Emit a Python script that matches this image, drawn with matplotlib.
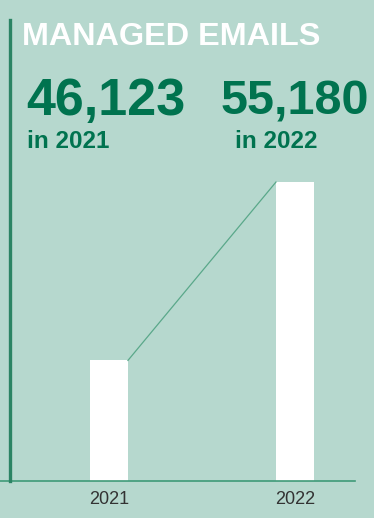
import matplotlib
matplotlib.use("Agg")
import matplotlib.pyplot as plt
from matplotlib.lines import Line2D

years = ["2021", "2022"]
emails = [46123, 55180]
big_labels = ["46,123", "55,180"]
sub_labels = ["in 2021", "in 2022"]

bg = "#b6d8ce"
dark = "#00734f"
line_c = "#3f9a78"

plt.rcParams['font.family'] = ['Liberation Sans', 'DejaVu Sans']

fig = plt.figure(figsize=(3.74, 5.18), dpi=100, facecolor=bg)
ax = fig.add_axes([0, 37/518, 355/374, 321/518])
ax.set_facecolor(bg)

x = [0, 1]
width = 0.204
ax.bar(x, emails, width, color="white", zorder=2)
# connector from top of first bar to top of second
ax.plot([x[0] + width/2, x[1] - width/2], emails, color="#5aa88a", lw=0.9, zorder=3)

ax.set_xlim(-0.586, 1.323)
ax.set_ylim(40000, 56300)
ax.set_yticks([])
ax.set_xticks(x)
ax.set_xticklabels(years, fontsize=13, color="#333333")
ax.tick_params(axis="x", length=0, pad=7.5)
for s in ["top", "right", "left"]:
    ax.spines[s].set_visible(False)
ax.spines["bottom"].set_color(line_c)
ax.spines["bottom"].set_linewidth(1.2)

# vertical accent bar on the left
fig.add_artist(Line2D([10/374, 10/374], [37/518, 1 - 20/518], color="#2b8464", lw=2.4))

fig.text(22/374, 1 - 45/518, "MANAGED EMAILS", color="white", fontsize=23.3,
         fontweight="bold", ha="left", va="baseline")
fig.text(26/374, 1 - 115/518, big_labels[0], color=dark, fontsize=37.5,
         fontweight="bold", ha="left", va="baseline")
fig.text(221/374, 1 - 115/518, big_labels[1], color=dark, fontsize=35,
         fontweight="bold", ha="left", va="baseline")
fig.text(27/374, 1 - 148/518, sub_labels[0], color=dark, fontsize=17.5,
         fontweight="bold", ha="left", va="baseline")
fig.text(235/374, 1 - 148/518, sub_labels[1], color=dark, fontsize=17.5,
         fontweight="bold", ha="left", va="baseline")

plt.savefig("out.png", dpi=100, facecolor=bg)
